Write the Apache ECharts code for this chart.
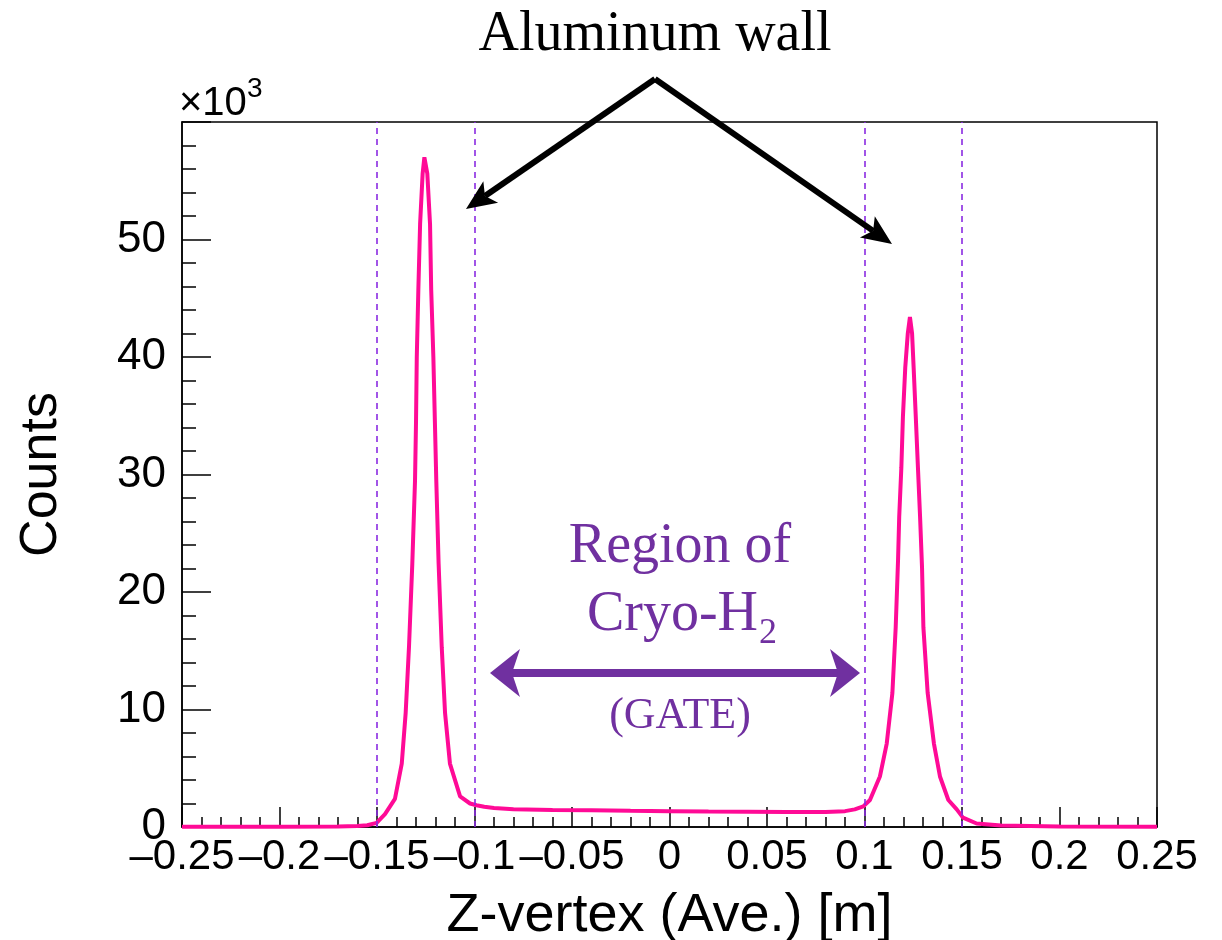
<!DOCTYPE html>
<html>
<head>
<meta charset="utf-8">
<script src="https://cdn.jsdelivr.net/npm/echarts@6/dist/echarts.min.js"></script>
<style>
  html, body { margin: 0; padding: 0; background: #fff; }
  #main { width: 1222px; height: 940px; }
</style>
</head>
<body>
<div id="main"></div>
<script>
// z-vertex (m) and counts (x10^3)
var zPos = [-0.25, -0.2, -0.17, -0.16, -0.155, -0.1502, -0.1459, -0.1408, -0.1373, -0.1353,
  -0.1336, -0.1319, -0.1305, -0.1300, -0.1296, -0.1288, -0.1279, -0.1266, -0.1257,
  -0.1242, -0.1228, -0.1222, -0.1211, -0.1203, -0.1196, -0.1184, -0.1168, -0.1151,
  -0.1126, -0.1074, -0.1023, -0.099, -0.095, -0.09, -0.08, -0.06, -0.04, -0.02, 0,
  0.02, 0.04, 0.06, 0.08, 0.09, 0.095, 0.0994, 0.1028, 0.1079, 0.1114, 0.1143, 0.1160,
  0.1172, 0.1178, 0.1189, 0.1197, 0.1209, 0.1222, 0.1233, 0.1244, 0.1252, 0.1263,
  0.1274, 0.1285, 0.1295, 0.1302, 0.1324, 0.1356, 0.1387, 0.1430, 0.1473, 0.1505,
  0.1575, 0.17, 0.2, 0.25];
var counts = [0.03, 0.03, 0.04, 0.08, 0.15, 0.35, 1.1, 2.4, 5.4, 9.7,
  15.3, 22.4, 29.5, 34.4, 40.0, 45.7, 51.3, 55.6, 57.0,
  55.6, 51.3, 45.7, 40.0, 34.4, 29.5, 22.4, 15.3, 9.7,
  5.4, 2.6, 2.0, 1.85, 1.72, 1.62, 1.52, 1.45, 1.42, 1.38, 1.35,
  1.32, 1.3, 1.27, 1.27, 1.35, 1.5, 1.75, 2.3, 4.3, 7.1, 11.4, 17.0,
  22.7, 26.4, 30.6, 34.9, 39.1, 42.0, 43.4, 42.0, 39.1, 34.9,
  30.6, 26.4, 22.1, 17.0, 11.4, 7.1, 4.3, 2.3, 1.5, 0.8,
  0.3, 0.12, 0.05, 0.03];
var gateLines = [-0.15, -0.1, 0.1, 0.15];
var xTicks = { min: -0.25, max: 0.25, step: 0.05 };
var yTicks = { min: 0, max: 60, step: 10 };

var purple = '#7030a0';
var chart = echarts.init(document.getElementById('main'));

function fmtX(v) {
  var r = Math.round(v * 100) / 100;
  if (r === 0) return '0';
  return (r < 0 ? '\u2013' : '') + String(Math.abs(r));
}

// arrow head polygon pointing at (x2,y2) coming from (x1,y1)
function head(x1, y1, x2, y2, len, half, notch) {
  var a = Math.atan2(y2 - y1, x2 - x1);
  var c = Math.cos(a), s = Math.sin(a);
  var bx = x2 - len * c, by = y2 - len * s;
  var nx = x2 - (len - notch) * c, ny = y2 - (len - notch) * s;
  return [[x2, y2], [bx - half * s, by + half * c], [nx, ny], [bx + half * s, by - half * c]];
}

function arrow(x1, y1, x2, y2, color, width, len, half, notch) {
  var a = Math.atan2(y2 - y1, x2 - x1);
  var ex = x2 - (len - notch) * Math.cos(a), ey = y2 - (len - notch) * Math.sin(a);
  return [
    { type: 'line', shape: { x1: x1, y1: y1, x2: ex, y2: ey },
      style: { stroke: color, lineWidth: width }, z: 100 },
    { type: 'polygon', shape: { points: head(x1, y1, x2, y2, len, half, notch) },
      style: { fill: color }, z: 100 }
  ];
}

var apex = [655, 79];
var graphics = [
  { type: 'text', style: { x: 179, y: 104, text: '\u00d710', font: '40px "Liberation Sans"',
      fill: '#000', textVerticalAlign: 'middle' } },
  { type: 'text', style: { x: 247, y: 89, text: '3', font: '28px "Liberation Sans"',
      fill: '#000', textVerticalAlign: 'middle' } },
  { type: 'text', style: { x: 655, y: 35, text: 'Aluminum wall', font: '56px "Liberation Serif"',
      fill: '#000', textAlign: 'center', textVerticalAlign: 'middle' } },
  { type: 'text', style: { x: 680, y: 547, text: 'Region of', font: '56px "Liberation Serif"',
      fill: purple, textAlign: 'center', textVerticalAlign: 'middle' } },
  { type: 'text', style: { x: 758, y: 615, text: 'Cryo-H', font: '56px "Liberation Serif"',
      fill: purple, textAlign: 'right', textVerticalAlign: 'middle' } },
  { type: 'text', style: { x: 759, y: 634, text: '2', font: '36px "Liberation Serif"',
      fill: purple, textAlign: 'left', textVerticalAlign: 'middle' } },
  { type: 'text', style: { x: 680, y: 716, text: '(GATE)', font: '44px "Liberation Serif"',
      fill: purple, textAlign: 'center', textVerticalAlign: 'middle' } }
];
graphics = graphics
  .concat(arrow(apex[0], apex[1], 466, 209, '#000', 6, 30, 13, 7))
  .concat(arrow(apex[0], apex[1], 892, 244, '#000', 6, 30, 13, 7))
  .concat(arrow(675, 673, 490, 673, purple, 8, 30, 24, 8))
  .concat(arrow(675, 673, 860, 673, purple, 8, 30, 24, 8));

var option = {
  animation: false,
  grid: {
    left: 182, right: 65, top: 122, bottom: 113,
    outerBoundsMode: 'none',
    show: true, borderColor: '#000', borderWidth: 1.5, backgroundColor: 'transparent'
  },
  xAxis: {
    type: 'value',
    min: xTicks.min, max: xTicks.max, interval: xTicks.step,
    name: 'Z-vertex (Ave.) [m]',
    nameLocation: 'middle', nameGap: 62,
    nameTextStyle: { fontFamily: 'Liberation Sans', fontSize: 54, color: '#000' },
    axisLine: { show: true, onZero: false, lineStyle: { color: '#000', width: 1.5 } },
    axisTick: { show: true, inside: true, length: 20, lineStyle: { color: '#000', width: 1.5 } },
    minorTick: { show: true, splitNumber: 5, length: 10, lineStyle: { color: '#000', width: 1.5 } },
    splitLine: { show: false },
    axisLabel: {
      formatter: fmtX, fontFamily: 'Liberation Sans', fontSize: 42, color: '#000', margin: 9,
      showMinLabel: true, showMaxLabel: true, hideOverlap: false
    }
  },
  yAxis: {
    type: 'value',
    min: yTicks.min, max: yTicks.max, interval: yTicks.step,
    name: 'Counts',
    nameLocation: 'middle', nameGap: 114,
    nameTextStyle: { fontFamily: 'Liberation Sans', fontSize: 52, color: '#000' },
    axisLine: { show: true, onZero: false, lineStyle: { color: '#000', width: 1.5 } },
    axisTick: { show: true, inside: true, length: 29, lineStyle: { color: '#000', width: 1.5 } },
    minorTick: { show: true, splitNumber: 5, length: 14, lineStyle: { color: '#000', width: 1.5 } },
    splitLine: { show: false },
    axisLabel: {
      formatter: function (v) { return v >= 60 ? '' : String(v); },
      fontFamily: 'Liberation Sans', fontSize: 44, color: '#000', margin: 16,
      showMinLabel: true
    }
  },
  series: [{
    type: 'line',
    data: zPos.map(function (z, i) { return [z, counts[i]]; }),
    showSymbol: false,
    lineStyle: { color: '#ff0a96', width: 4 },
    markLine: {
      silent: true,
      symbol: 'none',
      label: { show: false },
      lineStyle: { color: '#8a2be2', type: [6, 5], width: 1.6 },
      data: gateLines.map(function (g) { return { xAxis: g }; })
    },
    z: 3
  }],
  graphic: graphics
};

chart.setOption(option);
</script>
</body>
</html>
